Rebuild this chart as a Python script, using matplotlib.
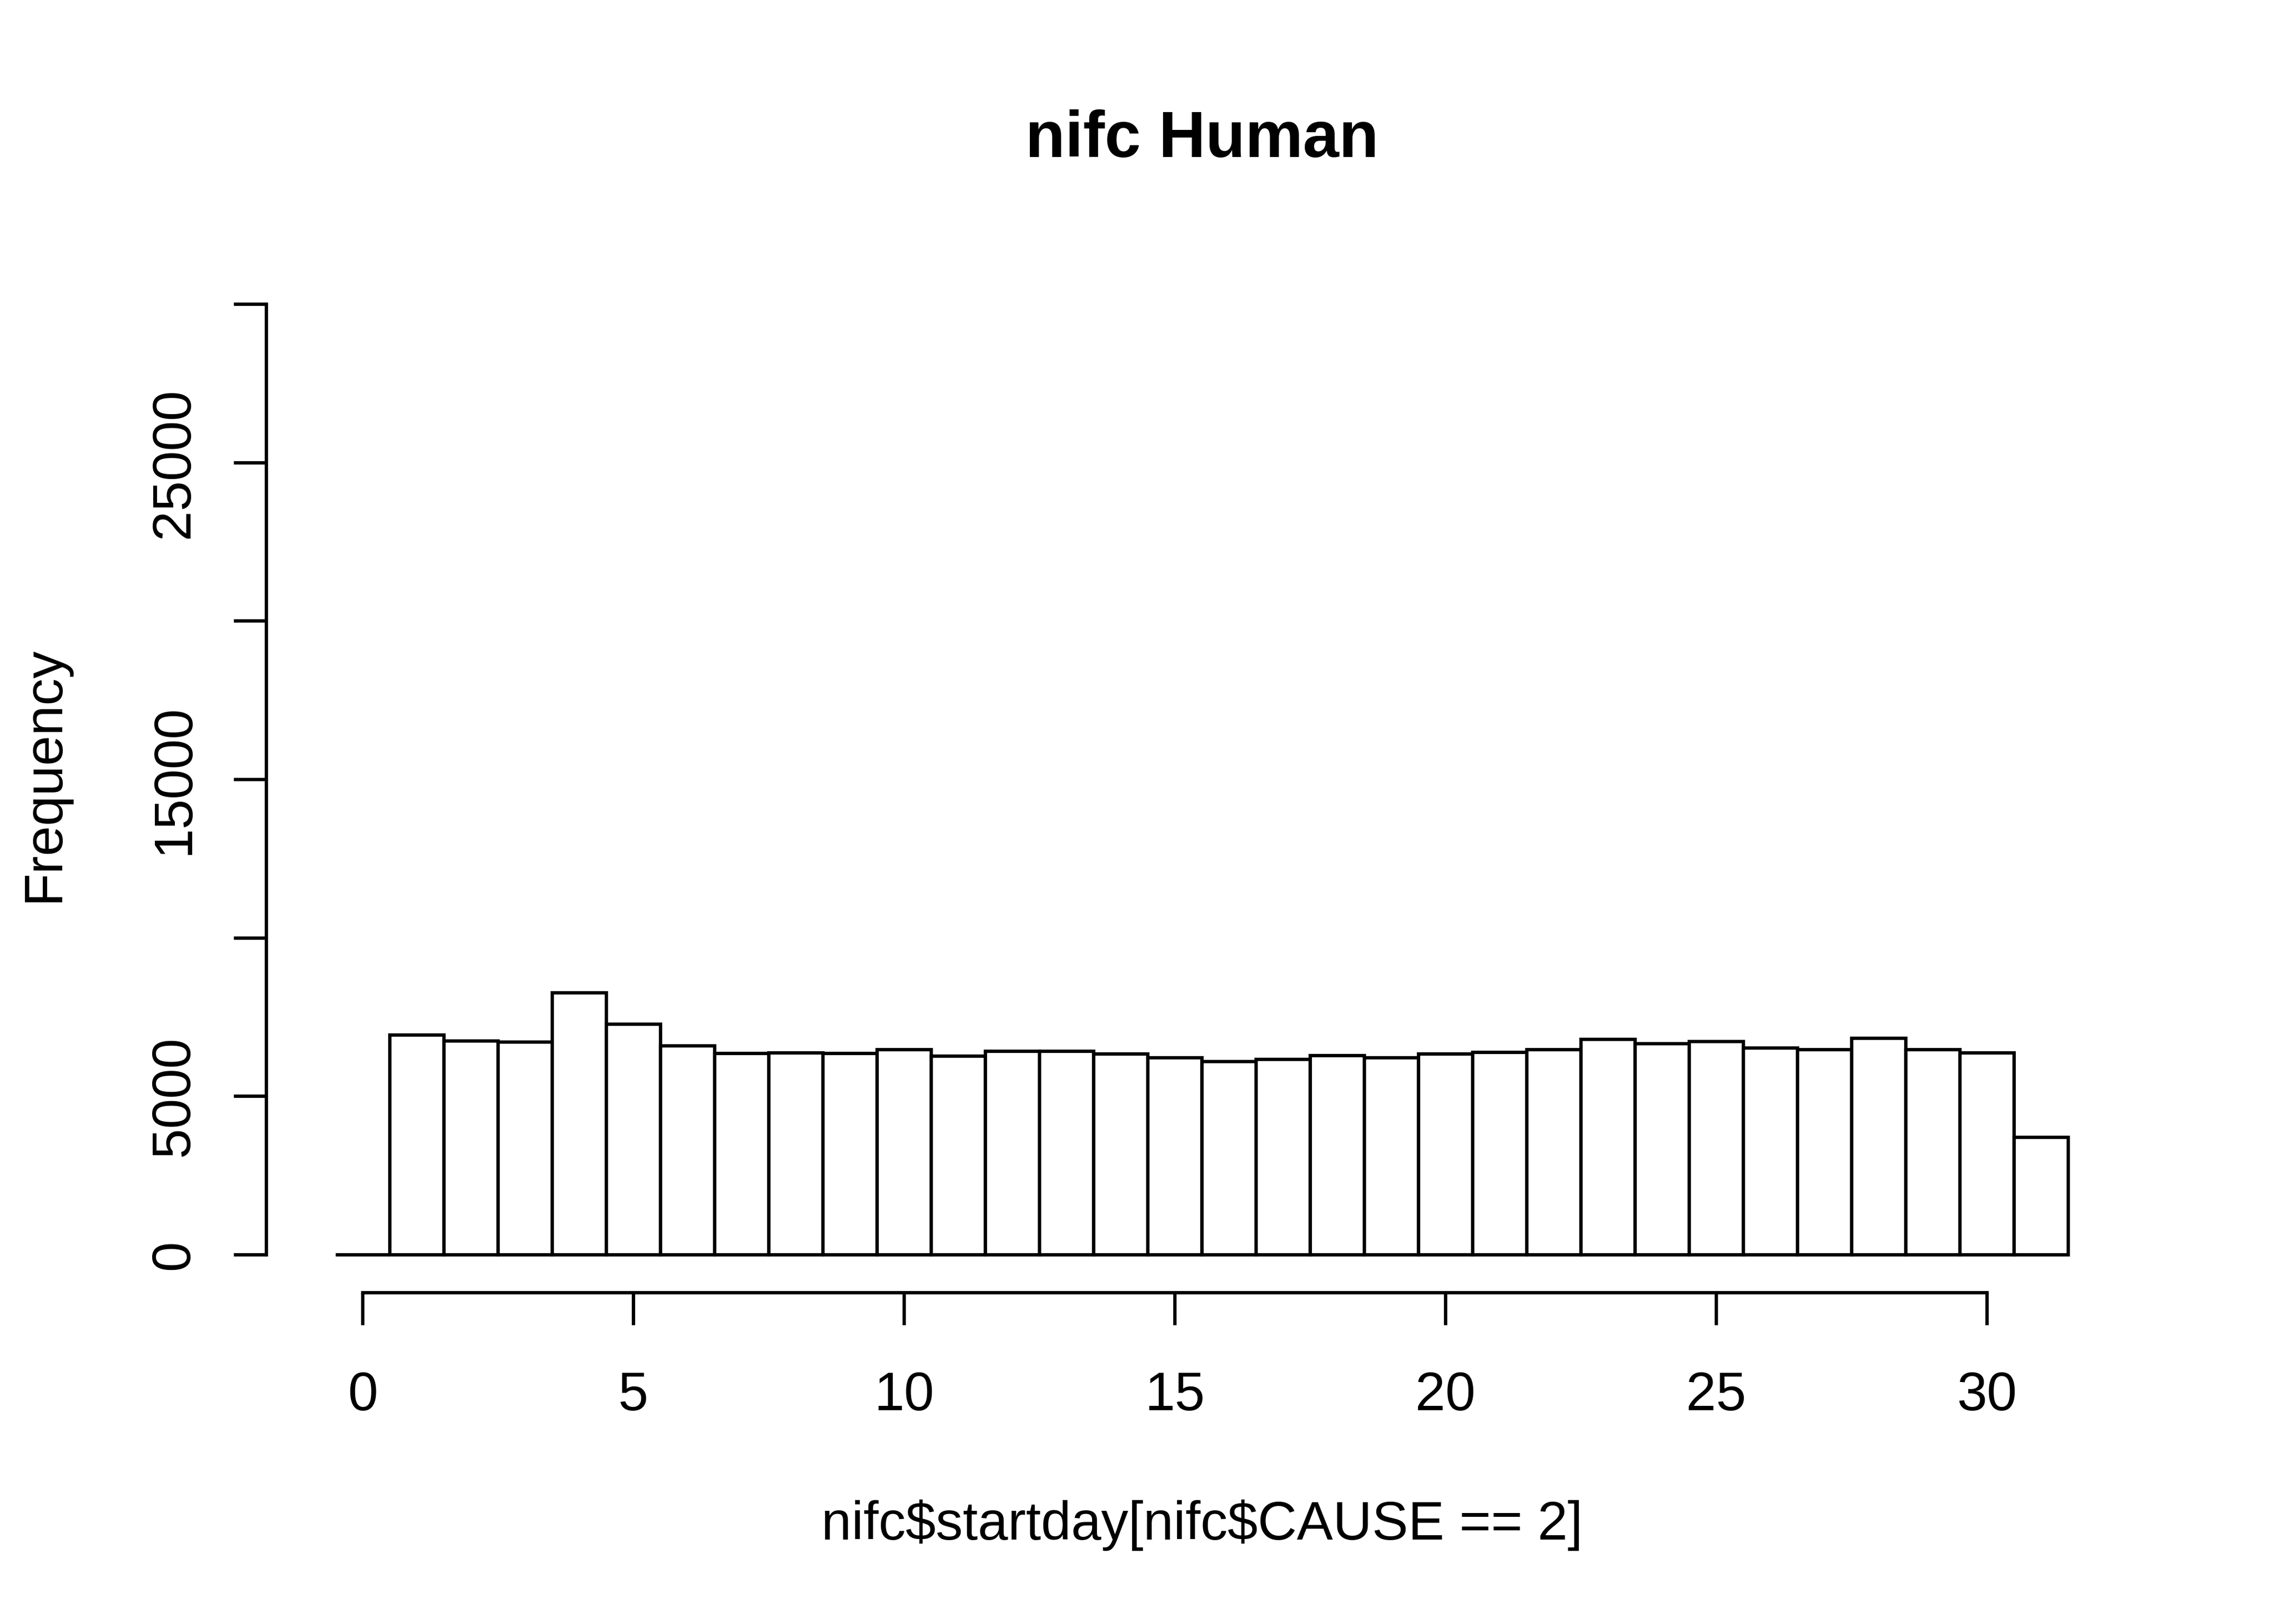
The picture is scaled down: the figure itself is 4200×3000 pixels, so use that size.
import matplotlib
matplotlib.use("Agg")
import matplotlib.pyplot as plt
import matplotlib.transforms as mtransforms

plt.rcParams['font.family'] = ['Liberation Sans', 'DejaVu Sans']

# Histogram data: bins of width 1 starting at -0.5 (day 0 bin is empty)
bin_starts = [d - 0.5 for d in range(0, 32)]
counts = [0,
          6930, 6750, 6720, 8270, 7270, 6590, 6350, 6370, 6350, 6480,
          6260, 6430, 6430, 6330, 6210, 6090, 6170, 6280, 6210, 6330,
          6390, 6470, 6800, 6660, 6730, 6530, 6480, 6830, 6480, 6370,
          3700]
x_ticks = [0, 5, 10, 15, 20, 25, 30]
x_tick_labels = ["0", "5", "10", "15", "20", "25", "30"]
y_ticks = [0, 5000, 10000, 15000, 20000, 25000, 30000]
y_tick_labels = ["0", "5000", "", "15000", "", "25000", ""]
title = "nifc Human"
xlabel = "nifc$startday[nifc$CAUSE == 2]"
ylabel = "Frequency"

W, H = 4200, 3000
fig = plt.figure(figsize=(7, 5), dpi=600)
ax = fig.add_axes([0.82 / 7, 1.02 / 5, 1 - (0.82 + 0.42) / 7, 1 - (1.02 + 0.82) / 5])

lw = 0.75
ax.bar(bin_starts, counts, width=1.0, align='edge', facecolor='white',
       edgecolor='black', linewidth=lw)

ax.set_xlim(-1.78, 32.78)
ax.set_ylim(-1200, 31200)

for s in ['top', 'right']:
    ax.spines[s].set_visible(False)
ax.spines['left'].set_bounds(0, 30000)
ax.spines['bottom'].set_bounds(0, 30)
for s in ['left', 'bottom']:
    ax.spines[s].set_linewidth(lw)

ax.set_xticks(x_ticks)
ax.set_yticks(y_ticks)
ax.set_xticklabels([])
ax.set_yticklabels([])
ax.tick_params(axis='both', direction='out', length=7.2, width=lw)

# tick labels placed like R (baseline positions)
tx = mtransforms.blended_transform_factory(ax.transData, fig.transFigure)
for t, lab in zip(x_ticks, x_tick_labels):
    ax.text(t, 1 - 2605 / H, lab, transform=tx, ha='center', va='baseline',
            fontsize=12, clip_on=False)
ty = mtransforms.blended_transform_factory(fig.transFigure, ax.transData)
for t, lab in zip(y_ticks, y_tick_labels):
    if lab:
        ax.text(348 / W, t, lab, transform=ty, ha='center', va='baseline',
                rotation=90, rotation_mode='anchor', fontsize=12, clip_on=False)

cx = 0.5 * (0.82 / 7) + 0.5 * (1 - 0.42 / 7)
fig.text(cx, 1 - 290 / H, title, ha='center', va='baseline',
         fontsize=14.4, fontweight='bold', parse_math=False)
fig.text(cx, 1 - 2844 / H, xlabel, ha='center', va='baseline',
         fontsize=12, parse_math=False)
fig.text(108 / W, 1 - 1430 / H, ylabel, ha='center', va='baseline',
         fontsize=12, rotation=90, rotation_mode='anchor', parse_math=False)

fig.savefig("out.png", dpi=600)
